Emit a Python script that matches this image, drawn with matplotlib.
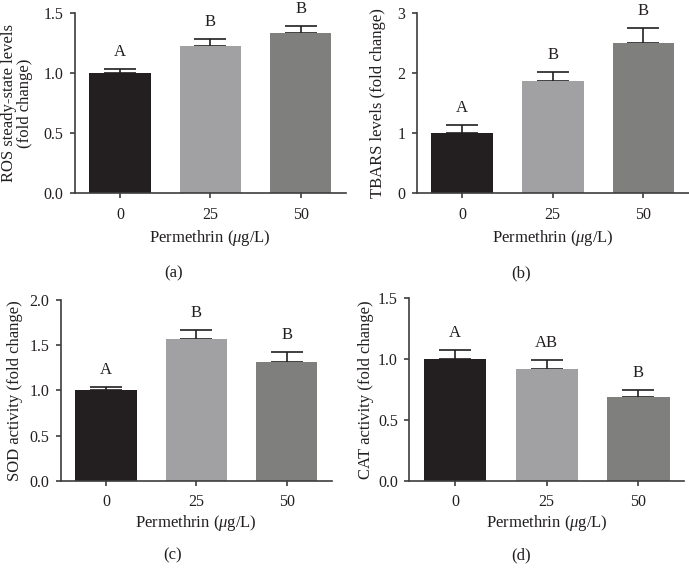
import matplotlib
matplotlib.use("Agg")
import matplotlib.pyplot as plt

plt.rcParams['font.family'] = ['Liberation Serif', 'DejaVu Serif']
plt.rcParams['mathtext.fontset'] = 'custom'
plt.rcParams['mathtext.rm'] = 'Liberation Serif'
plt.rcParams['mathtext.it'] = 'Liberation Serif:italic'

# data
doses = ["0", "25", "50"]
colors = ["#231f20", "#a1a1a4", "#7f807e"]

ros_mean = [1.00, 1.225, 1.335]
ros_err = [0.033, 0.058, 0.058]
ros_sig = ["A", "B", "B"]

tbars_mean = [1.00, 1.86, 2.50]
tbars_err = [0.13, 0.15, 0.245]
tbars_sig = ["A", "B", "B"]

sod_mean = [1.00, 1.57, 1.318]
sod_err = [0.033, 0.10, 0.107]
sod_sig = ["A", "B", "B"]

cat_mean = [1.00, 0.915, 0.69]
cat_err = [0.072, 0.074, 0.053]
cat_sig = ["A", "AB", "B"]

W, H = 689, 578
fig = plt.figure(figsize=(W / 100, H / 100), dpi=100)
fig.patch.set_facecolor("white")
TXT = "#231f20"


def panel(c0, step, px_top, px_bottom, mean, err, sig, ylim, yticks,
          ylabel, letter, ylab_x, letter_x, text_y):
    # axes spans x from -0.5 to 2.5 in bar units
    px_left = c0 - 0.5 * step
    px_right = c0 + 2.5 * step
    ax = fig.add_axes([px_left / W, 1 - px_bottom / H,
                       (px_right - px_left) / W, (px_bottom - px_top) / H])
    x = range(len(mean))
    ax.bar(x, mean, width=0.68, color=colors, zorder=2)
    ax.errorbar(x, mean, yerr=[[0] * len(err), err], fmt="none",
                ecolor=TXT, elinewidth=1.2, capsize=11.4, capthick=1.2,
                zorder=1)
    for xi, m, e, s in zip(x, mean, err, sig):
        ax.annotate(s, (xi, m + e), xytext=(0, 9.5), textcoords="offset points",
                    ha="center", va="baseline", fontsize=12, color=TXT)
    ax.set_xlim(-0.5, 2.5)
    ax.set_ylim(*ylim)
    ax.set_yticks(yticks)
    ax.set_xticks(list(x))
    ax.set_xticklabels(doses)
    ax.set_yticklabels(["%d" % t if isinstance(t, int) else "%.1f" % t for t in yticks])
    for sp in ["top", "right"]:
        ax.spines[sp].set_visible(False)
    for sp in ["left", "bottom"]:
        ax.spines[sp].set_linewidth(1.2)
        ax.spines[sp].set_color("#3d3d3d")
    ax.tick_params(direction="out", length=3.6, width=1.2, color="#3d3d3d",
                   labelsize=11.5, labelcolor=TXT)
    ax.tick_params(axis="y", pad=4.5)
    ax.tick_params(axis="x", pad=6)
    fig.text(ylab_x / W, 1 - ((px_top + px_bottom) / 2) / H, ylabel,
             rotation=90, ha="center", va="center", fontsize=12,
             color=TXT, linespacing=1.05)
    fig.text((px_left + px_right) / 2 / W, 1 - text_y[0] / H,
             "Permethrin ($\\mu$g/L)", ha="center", va="center",
             fontsize=12, color=TXT)
    fig.text(letter_x / W, 1 - text_y[1] / H, letter, ha="center",
             va="center", fontsize=12, color=TXT)
    return ax


panel(120, 90.3, 13, 193.3, ros_mean, ros_err, ros_sig, (0, 1.5),
      [0.0, 0.5, 1.0, 1.5], "ROS steady-state levels\n(fold change)",
      "(a)", 17, 174, (238, 273))
panel(462, 90.7, 12.7, 193.3, tbars_mean, tbars_err, tbars_sig, (0, 3),
      [0, 1, 2, 3], "TBARS levels (fold change)",
      "(b)", 378, 521, (238, 273))
panel(106, 90.35, 300, 480.7, sod_mean, sod_err, sod_sig, (0, 2.0),
      [0.0, 0.5, 1.0, 1.5, 2.0], "SOD activity (fold change)",
      "(c)", 15, 173, (523, 555))
panel(455, 91.7, 298.3, 480.7, cat_mean, cat_err, cat_sig, (0, 1.5),
      [0.0, 0.5, 1.0, 1.5], "CAT activity (fold change)",
      "(d)", 366, 521, (523, 555))

fig.savefig("out.png", dpi=100)
